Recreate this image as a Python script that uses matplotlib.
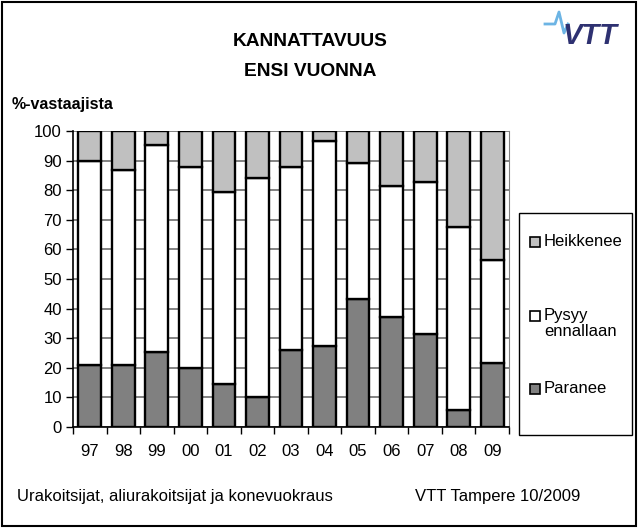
import matplotlib
matplotlib.use('Agg')
import matplotlib.pyplot as plt
from matplotlib.patches import Rectangle
from matplotlib.lines import Line2D
import numpy as np

plt.rcParams['font.family'] = ['Liberation Sans', 'DejaVu Sans']

vuodet = ['97', '98', '99', '00', '01', '02', '03', '04', '05', '06', '07', '08', '09']
paranee = [21, 21, 25.5, 20, 14.5, 10, 26, 27.5, 43.3, 37, 31.3, 5.7, 21.7]
pysyy = [69, 65.8, 69.9, 68, 65, 74.2, 62, 69.2, 46, 44.5, 51.6, 62, 34.8]
heikkenee = [10, 13.2, 4.6, 12, 20.5, 15.8, 12, 3.3, 10.7, 18.5, 17.1, 32.3, 43.5]

W, H = 638, 528
fig = plt.figure(figsize=(W / 100, H / 100), dpi=100)
ax = fig.add_axes([73 / W, 1 - 427 / H, 436 / W, 296 / H])

x = np.arange(len(vuodet))
pohja2 = np.array(paranee) + np.array(pysyy)
ax.bar(x, paranee, 0.68, color='#808080', edgecolor='black', linewidth=1.7, zorder=3)
ax.bar(x, pysyy, 0.68, bottom=paranee, color='white', edgecolor='black', linewidth=1.7, zorder=3)
ax.bar(x, heikkenee, 0.68, bottom=pohja2, color='#c0c0c0', edgecolor='black', linewidth=1.7, zorder=3)

ax.set_xlim(-0.5, len(vuodet) - 0.5)
ax.set_ylim(0, 100)
ax.set_yticks(range(0, 101, 10))
ax.yaxis.grid(True, color='#606060', linewidth=1.1, zorder=0)
ax.set_xticks(x)
ax.set_xticklabels(vuodet)
ax.set_xticks(np.arange(-0.5, len(vuodet), 1), minor=True)
ax.tick_params(axis='x', which='major', length=0, pad=12, labelsize=12)
ax.tick_params(axis='x', which='minor', length=5, width=1, direction='out')
ax.tick_params(axis='y', length=5, width=1, direction='out', labelsize=12, pad=3)
ax.spines['top'].set_visible(False)
ax.spines['right'].set_color('#808080')
ax.spines['left'].set_linewidth(1.2)
ax.spines['bottom'].set_linewidth(1.2)

# otsikot
fig.text(310 / W, 1 - 42 / H, 'KANNATTAVUUS', ha='center', va='center', fontsize=13.8, fontweight='bold')
fig.text(310 / W, 1 - 72 / H, 'ENSI VUONNA', ha='center', va='center', fontsize=13.8, fontweight='bold')
fig.text(12 / W, 1 - 105 / H, '%-vastaajista', ha='left', va='center', fontsize=11.5, fontweight='bold')
fig.text(17 / W, 1 - 497 / H, 'Urakoitsijat, aliurakoitsijat ja konevuokraus', ha='left', va='center', fontsize=12)
fig.text(415 / W, 1 - 497 / H, 'VTT Tampere 10/2009', ha='left', va='center', fontsize=12)

# selite
fig.patches.append(Rectangle((519 / W, 1 - 435 / H), 113 / W, 222 / H, transform=fig.transFigure,
                             facecolor='white', edgecolor='black', linewidth=1))
selite = [('Heikkenee', '#c0c0c0', 242), ('Pysyy\nennallaan', 'white', 316), ('Paranee', '#808080', 389)]
for teksti, vari, yy in selite:
    fig.patches.append(Rectangle((530 / W, 1 - (yy + 5) / H), 10 / W, 10 / H, transform=fig.transFigure,
                                 facecolor=vari, edgecolor='black', linewidth=1.2))
    fig.text(544 / W, 1 - (yy - 8) / H, teksti, ha='left', va='top', fontsize=12, linespacing=1.1)

# VTT logo
fig.lines.append(Line2D(np.array([545, 555, 559, 564, 568]) / W, 1 - np.array([24, 24, 12, 33, 24]) / H,
                        transform=fig.transFigure, color='#6cb4e4', linewidth=2))
fig.text(563 / W, 1 - 36 / H, 'VTT', ha='left', va='center', fontsize=21, fontweight='heavy',
         fontstyle='italic', color='#2e3171')

# kehys
fig.patches.append(Rectangle((2 / W, 2 / H), 634 / W, 524 / H, transform=fig.transFigure,
                             facecolor='none', edgecolor='black', linewidth=1.5))

fig.savefig('out.png', dpi=100)
